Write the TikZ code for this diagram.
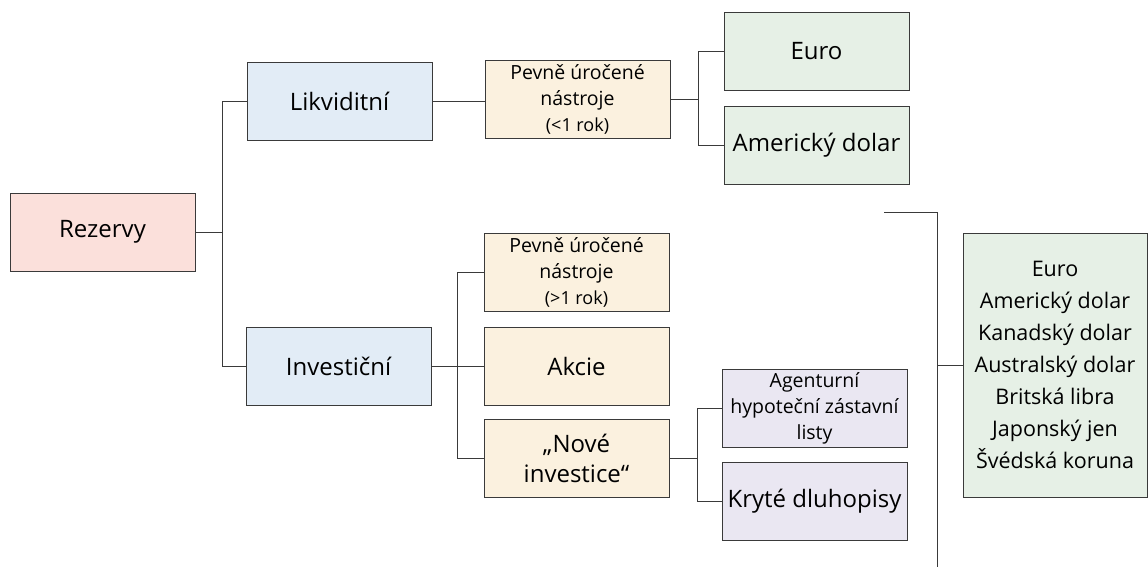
\documentclass[tikz,border=0pt]{standalone}
\usepackage{fontspec}
\setmainfont{Open Sans}
\definecolor{edge}{HTML}{3A3A3A}
\definecolor{cpink}{HTML}{FBE0DB}
\definecolor{cblue}{HTML}{E2ECF6}
\definecolor{ccream}{HTML}{FBF1DF}
\definecolor{cgreen}{HTML}{E6F0E6}
\definecolor{clav}{HTML}{EAE7F2}
\tikzset{
  box/.style={draw=edge, line width=0.9pt, minimum width=185pt, minimum height=78pt, inner sep=0pt, align=center, font=\fontsize{24}{30}\selectfont},
  small/.style={font=\fontsize{19.5}{26}\selectfont},
  conn/.style={draw=edge, line width=0.9pt},
}
\begin{document}
\begin{tikzpicture}[x=1pt,y=-1pt]
\useasboundingbox (0,0) rectangle (1148,567);
\node[box, fill=cpink] (rez) at (102.5,232) {Rezervy};
\node[box, fill=cblue] (likv) at (339.5,101) {Likviditní};
\node[box, fill=cblue] (inv) at (338.5,366) {Investiční};
\node[box, fill=ccream, small] (pev1) at (577.5,99.5) {Pevně úročené\\nástroje\\{\fontsize{18}{22}\selectfont(<1 rok)}};
\node[box, fill=cgreen] (euro) at (816.5,51.5) {Euro};
\node[box, fill=cgreen] (usd) at (816.5,145) {Americký dolar};
\node[box, fill=ccream, small] (pev2) at (576.5,272.5) {Pevně úročené\\nástroje\\{\fontsize{18}{22}\selectfont(>1 rok)}};
\node[box, fill=ccream] (akc) at (576.5,366) {Akcie};
\node[box, fill=ccream] (nov) at (576.5,458.5) {„Nové\\investice“};
\node[box, fill=clav, small] (agt) at (814.5,408.5) {Agenturní\\hypoteční zástavní\\listy};
\node[box, fill=clav] (kry) at (814.5,501.5) {Kryté dluhopisy};
\node[box, fill=cgreen, minimum width=184pt, minimum height=264pt, font=\fontsize{21.5}{32}\selectfont] (cur) at (1055,365) {Euro\\Americký dolar\\Kanadský dolar\\Australský dolar\\Britská libra\\Japonský jen\\Švédská koruna};
% connectors
\coordinate (j1) at (222,232);
\draw[conn] (rez.east) -- (j1);
\draw[conn] (j1) |- (likv.west);
\draw[conn] (j1) |- (inv.west);
\draw[conn] (likv.east) -- (likv.east -| pev1.west);
\coordinate (j2) at (698,99.5);
\draw[conn] (pev1.east) -- (j2);
\draw[conn] (j2) |- (euro.west);
\draw[conn] (j2) |- (usd.west);
\coordinate (j3) at (457,366);
\draw[conn] (inv.east) -- (akc.west);
\draw[conn] (j3) |- (pev2.west);
\draw[conn] (j3) |- (nov.west);
\coordinate (j4) at (697,458.5);
\draw[conn] (nov.east) -- (j4);
\draw[conn] (j4) |- (agt.west);
\draw[conn] (j4) |- (kry.west);
\coordinate (t1) at (884,212);
\coordinate (t2) at (937,567);
\draw[conn] (t1) -| (t2);
\draw[conn] (cur.west -| t2) -- (cur.west);
\end{tikzpicture}
\end{document}
